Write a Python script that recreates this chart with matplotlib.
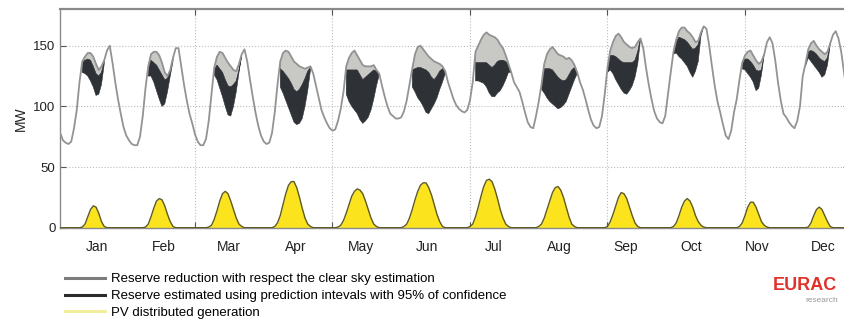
import numpy as np
import matplotlib
matplotlib.use("Agg")
import matplotlib.pyplot as plt
from matplotlib.lines import Line2D

plt.rcParams['font.family'] = ['Liberation Sans', 'DejaVu Sans']

months = ['Jan', 'Feb', 'Mar', 'Apr', 'May', 'Jun', 'Jul', 'Aug', 'Sep', 'Oct', 'Nov', 'Dec']

# typical daily load profile for each month, hourly [MW]
load_jan = [78, 72, 70, 69, 71, 82, 97, 120, 137, 141, 144, 144, 141, 135, 130, 133, 138, 146, 150, 136, 120, 106, 94, 83]
load_feb = [76, 72, 69, 68, 68, 75, 92, 115, 133, 143, 145, 145, 142, 136, 128, 125, 130, 140, 148, 148, 133, 118, 105, 94]
load_mar = [86, 77, 71, 68, 68, 73, 88, 110, 132, 141, 145, 144, 140, 136, 133, 130, 129, 135, 143, 147, 137, 122, 108, 95]
load_apr = [84, 76, 71, 69, 70, 78, 95, 118, 137, 144, 146, 145, 141, 137, 135, 133, 132, 131, 132, 133, 127, 117, 107, 97]
load_may = [91, 86, 82, 80, 81, 88, 98, 112, 133, 140, 144, 146, 142, 138, 134, 133, 133, 133, 134, 130, 127, 117, 108, 100]
load_jun = [94, 92, 90, 90, 91, 96, 105, 118, 131, 143, 149, 150, 147, 144, 141, 139, 137, 136, 135, 133, 129, 120, 113, 106]
load_jul = [101, 98, 96, 95, 97, 105, 120, 145, 150, 155, 159, 161, 159, 158, 157, 155, 151, 148, 142, 135, 128, 120, 116, 112]
load_aug = [104, 95, 87, 83, 82, 92, 104, 118, 135, 143, 147, 149, 146, 143, 142, 141, 139, 140, 138, 134, 128, 120, 114, 106]
load_sep = [97, 89, 84, 82, 83, 92, 110, 132, 146, 153, 158, 160, 157, 153, 151, 149, 148, 149, 153, 156, 148, 132, 118, 106]
load_oct = [96, 90, 87, 86, 92, 110, 128, 145, 155, 162, 165, 165, 162, 160, 157, 153, 154, 161, 166, 164, 150, 133, 117, 104]
load_nov = [95, 85, 76, 73, 80, 95, 106, 122, 136, 142, 145, 146, 142, 138, 135, 137, 143, 153, 157, 152, 138, 120, 105, 94]
load_dec = [91, 87, 84, 82, 88, 100, 125, 135, 147, 152, 154, 150, 147, 145, 143, 145, 152, 159, 162, 156, 145, 128, 112, 100]

# first hour of the reserve band in each month
fill_start = [8, 8, 8, 8, 8, 8, 7, 7, 7, 7, 8, 7]
# lower limit with clear sky estimation (bottom of light band)
reserve_clear = [
    [136, 138, 139, 138, 133, 127, 125, 128, 137],
    [131, 138, 136, 134, 130, 126, 122, 123, 129, 139],
    [130, 134, 131, 128, 122, 117, 116, 118, 121, 130, 142],
    [131, 129, 126, 123, 119, 114, 112, 114, 118, 123, 129, 132],
    [130, 130, 130, 130, 130, 126, 122, 124, 126, 128, 130, 129, 127],
    [130, 131, 132, 132, 131, 130, 128, 124, 122, 125, 129, 131, 129],
    [136, 136, 136, 136, 136, 134, 132, 134, 137, 138, 138, 137, 134, 128],
    [117, 131, 131, 131, 130, 127, 124, 122, 121, 122, 126, 130, 132, 128],
    [131, 142, 142, 141, 139, 137, 136, 136, 136, 136, 138, 145, 156],
    [144, 153, 157, 156, 155, 153, 150, 147, 148, 151, 160, 166],
    [135, 139, 139, 137, 134, 130, 129, 130, 143],
    [134, 145, 146, 145, 143, 140, 138, 137, 140, 152],
]
# lower limit with 95% prediction intervals (bottom of dark band)
reserve_pi = [
    [128, 127, 125, 121, 116, 109, 110, 118, 135],
    [125, 125, 120, 113, 106, 100, 102, 112, 125, 137],
    [126, 122, 115, 108, 100, 93, 92, 100, 112, 128, 142],
    [116, 111, 105, 99, 93, 87, 85, 86, 90, 100, 113, 130],
    [110, 104, 100, 97, 94, 89, 86, 88, 91, 97, 106, 117, 126],
    [116, 112, 107, 104, 100, 95, 94, 98, 102, 107, 114, 120, 127],
    [121, 121, 120, 119, 116, 111, 108, 108, 111, 113, 117, 122, 128, 128],
    [114, 111, 107, 104, 102, 100, 98, 99, 101, 104, 110, 116, 122, 127],
    [128, 130, 127, 122, 118, 114, 111, 110, 113, 117, 124, 135, 155],
    [143, 144, 141, 139, 136, 133, 128, 124, 129, 137, 158, 166],
    [131, 130, 127, 124, 120, 113, 115, 126, 143],
    [133, 140, 137, 134, 131, 128, 124, 126, 134, 151],
]

# PV distributed generation, hourly [MW]
pv_jan = [0, 0, 0, 0, 0, 0, 0, 0, 0.5, 3, 9, 15, 18, 17, 12, 5, 1, 0, 0, 0, 0, 0, 0, 0]
pv_feb = [0, 0, 0, 0, 0, 0, 0, 0.5, 3, 9, 16, 22, 24, 23, 18, 11, 5, 1, 0, 0, 0, 0, 0, 0]
pv_mar = [0, 0, 0, 0, 0, 0, 0.5, 2, 7, 14, 22, 28, 30, 28, 22, 15, 8, 3, 1, 0, 0, 0, 0, 0]
pv_apr = [0, 0, 0, 0, 0, 0, 1, 4, 10, 19, 28, 35, 38, 38, 33, 25, 16, 8, 3, 1, 0, 0, 0, 0]
pv_may = [0, 0, 0, 0, 0, 0.5, 2, 6, 12, 19, 26, 30, 32, 31, 28, 22, 15, 8, 3, 1, 0, 0, 0, 0]
pv_jun = [0, 0, 0, 0, 0, 1, 3, 8, 15, 23, 30, 35, 37, 37, 33, 27, 19, 11, 5, 1, 0, 0, 0, 0]
pv_jul = [0, 0, 0, 0, 0, 1, 3, 9, 17, 26, 34, 39, 40, 38, 32, 24, 15, 8, 3, 1, 0, 0, 0, 0]
pv_aug = [0, 0, 0, 0, 0, 0, 1, 3, 8, 15, 22, 29, 33, 34, 31, 25, 17, 9, 3, 1, 0, 0, 0, 0]
pv_sep = [0, 0, 0, 0, 0, 0, 0, 1, 5, 11, 18, 25, 29, 28, 24, 17, 10, 4, 1, 0, 0, 0, 0, 0]
pv_oct = [0, 0, 0, 0, 0, 0, 0, 1, 4, 10, 17, 22, 24, 22, 17, 10, 5, 2, 0.5, 0, 0, 0, 0, 0]
pv_nov = [0, 0, 0, 0, 0, 0, 0, 1, 4, 10, 17, 21, 21, 17, 11, 5, 2, 0.5, 0, 0, 0, 0, 0, 0]
pv_dec = [0, 0, 0, 0, 0, 0, 0, 0, 0.5, 4, 10, 15, 17, 15, 10, 5, 1, 0, 0, 0, 0, 0, 0, 0]

load = np.concatenate([load_jan, load_feb, load_mar, load_apr, load_may, load_jun,
                       load_jul, load_aug, load_sep, load_oct, load_nov, load_dec]).astype(float)
pv = np.concatenate([pv_jan, pv_feb, pv_mar, pv_apr, pv_may, pv_jun,
                     pv_jul, pv_aug, pv_sep, pv_oct, pv_nov, pv_dec]).astype(float)
hours = np.arange(1, len(load) + 1)

mid = load.copy()
low = load.copy()
band = np.zeros(len(load), dtype=bool)
for d in range(12):
    i0 = 24 * d + fill_start[d]
    n = len(reserve_clear[d])
    mid[i0:i0 + n] = reserve_clear[d]
    low[i0:i0 + n] = reserve_pi[d]
    band[i0:i0 + n] = True

fig = plt.figure(figsize=(8.45, 3.24), dpi=100)
ax = fig.add_axes([0.0713, 0.2972, 0.934, 0.674])

ax.fill_between(hours, mid, load, where=band, color='#c8c8c5', edgecolor='#707070', lw=0.4, zorder=2)
ax.fill_between(hours, low, mid, where=band, color='#2e3236', edgecolor='#2e3236', lw=0.4, zorder=2)
ax.plot(hours, load, color='#939393', lw=1.3, zorder=3)

ax.fill_between(hours, 0, pv, color='#fbe41e', lw=0, zorder=2)
ax.plot(hours, pv, color='#5e5a22', lw=1.0, zorder=3)

ax.set_xlim(1, 288)
ax.set_ylim(0, 180)
ax.set_yticks([0, 50, 100, 150])
ax.set_xticks([50, 100, 150, 200, 250])
ax.set_xticklabels([])
ax.set_xticks([24 * d + 14.5 for d in range(12)], labels=months, minor=True)
ax.tick_params(axis='x', which='minor', length=0, pad=9, labelsize=10, labelcolor='#222222')
ax.tick_params(axis='both', which='major', direction='in', length=4, color='#555555',
               top=True, right=True, labelsize=9.5, labelcolor='#222222')
ax.grid(True, which='major', linestyle=':', color='#bdbdbd', lw=0.8)
for s in ax.spines.values():
    s.set_color('#8a8a8a')
    s.set_linewidth(1.0)
ax.spines['top'].set_linewidth(1.6)
ax.set_ylabel('MW', fontsize=10, color='#222222', labelpad=4)

handles = [Line2D([], [], color='#7c7c7c', lw=2.2),
           Line2D([], [], color='#2b2b2b', lw=2.2),
           Line2D([], [], color='#f2ee9c', lw=2.2)]
labels = ['Reserve reduction with respect the clear sky estimation',
          'Reserve estimated using prediction intevals with 95% of confidence',
          'PV distributed generation']
fig.legend(handles, labels, loc='upper left', bbox_to_anchor=(0.077, 0.157),
           frameon=False, handlelength=3.0, handletextpad=0.5,
           labelspacing=0.35, borderpad=0, borderaxespad=0,
           prop={'family': 'Liberation Sans', 'size': 9.5})

fig.text(0.915, 0.105, 'EURAC', color='#e0322b', fontsize=13, fontweight='bold')
fig.text(0.953, 0.068, 'research', color='#9a9a9a', fontsize=6)

fig.savefig('out.png', dpi=100)
